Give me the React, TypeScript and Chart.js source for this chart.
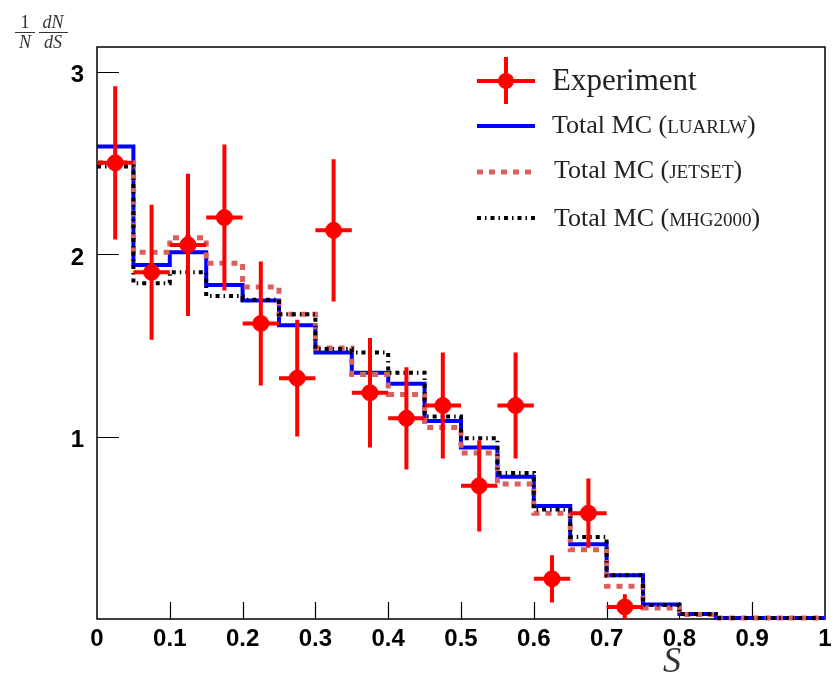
import { useEffect, useRef } from 'react';
import { Chart, registerables } from 'chart.js';

Chart.register(...registerables);

// ---------- DATA ----------
const binEdges = [0, 0.05, 0.1, 0.15, 0.2, 0.25, 0.3, 0.35, 0.4, 0.45, 0.5, 0.55, 0.6, 0.65, 0.7, 0.75, 0.8, 0.85, 0.9, 0.95, 1];
const expX = [0.025, 0.075, 0.125, 0.175, 0.225, 0.275, 0.325, 0.375, 0.425, 0.475, 0.525, 0.575, 0.625, 0.675, 0.725];
const expY = [2.5, 1.9, 2.05, 2.2, 1.62, 1.32, 2.13, 1.24, 1.1, 1.17, 0.73, 1.17, 0.22, 0.58, 0.066];
const expErr = [0.42, 0.37, 0.39, 0.4, 0.34, 0.32, 0.39, 0.3, 0.28, 0.29, 0.25, 0.29, 0.13, 0.19, 0.07];
const expHalfWidth = 0.025;
const luarlw = [2.59, 1.94, 2.01, 1.83, 1.745, 1.61, 1.46, 1.35, 1.29, 1.085, 0.94, 0.78, 0.62, 0.41, 0.24, 0.08, 0.027, 0.006, 0.006, 0.006];
const jetset = [2.5, 2.01, 2.09, 1.95, 1.82, 1.67, 1.485, 1.34, 1.23, 1.05, 0.91, 0.74, 0.58, 0.38, 0.18, 0.06, 0.025, 0.006, 0.006, 0.006];
const mhg2000 = [2.48, 1.84, 1.9, 1.77, 1.75, 1.67, 1.48, 1.46, 1.35, 1.11, 0.99, 0.8, 0.6, 0.45, 0.24, 0.077, 0.027, 0.006, 0.006, 0.006];
const xTickLabels = [0, 0.1, 0.2, 0.3, 0.4, 0.5, 0.6, 0.7, 0.8, 0.9, 1];
const xTickValues = [0.1, 0.2, 0.3, 0.4, 0.5, 0.6, 0.7, 0.8, 0.9];
const yTickValues = [1, 2, 3];

const RED = '#ff0000';
const BLUE = '#0000ff';
const PINK = '#d8605e';
const BLACK = '#000000';
const DASH_RED = [6, 6];
const DASH_BLACK = [4, 4, 1.5, 4];

// histogram: value of bin i spans [edge_i, edge_{i+1}]
const stepPoints = (vals: number[]) =>
  binEdges.map((e, i) => ({ x: e, y: vals[Math.max(0, i - 1)] }));

const decorPlugin = {
  id: 'decor',
  beforeDatasetsDraw(chart: any) {
    const { ctx, chartArea: a, scales } = chart;
    ctx.save();
    ctx.strokeStyle = '#000';
    ctx.lineWidth = 1.5;
    ctx.strokeRect(a.left, a.top, a.right - a.left, a.bottom - a.top);
    ctx.lineWidth = 1.2;
    ctx.beginPath();
    xTickValues.forEach((v) => {
      const px = Math.round(scales.x.getPixelForValue(v)) + 0.5;
      ctx.moveTo(px, a.bottom);
      ctx.lineTo(px, a.bottom - 17);
    });
    yTickValues.forEach((v) => {
      const py = Math.round(scales.y.getPixelForValue(v)) + 0.5;
      ctx.moveTo(a.left, py);
      ctx.lineTo(a.left + 22, py);
    });
    ctx.stroke();
    ctx.restore();
  },
  beforeDatasetDraw(chart: any, args: any) {
    if (args.index !== 0) return;
    const { ctx, scales } = chart;
    ctx.save();
    ctx.strokeStyle = RED;
    ctx.lineWidth = 4;
    ctx.beginPath();
    expX.forEach((x, i) => {
      const px = scales.x.getPixelForValue(x);
      const py = scales.y.getPixelForValue(expY[i]);
      ctx.moveTo(scales.x.getPixelForValue(x - expHalfWidth), py);
      ctx.lineTo(scales.x.getPixelForValue(x + expHalfWidth), py);
      ctx.moveTo(px, scales.y.getPixelForValue(expY[i] + expErr[i]));
      ctx.lineTo(px, scales.y.getPixelForValue(Math.max(0, expY[i] - expErr[i])));
    });
    ctx.stroke();
    ctx.restore();
  },
  afterDraw(chart: any) {
    const { ctx } = chart;
    ctx.save();
    // y-axis title: 1/N dN/dS
    ctx.fillStyle = '#333';
    ctx.strokeStyle = '#333';
    ctx.textAlign = 'center';
    ctx.textBaseline = 'alphabetic';
    ctx.font = '19px "Liberation Serif"';
    ctx.fillText('1', 25, 28);
    ctx.font = 'italic 18px "Liberation Serif"';
    ctx.fillText('N', 25, 48);
    ctx.fillText('dN', 53, 28);
    ctx.fillText('dS', 53, 48);
    ctx.lineWidth = 1.2;
    ctx.beginPath();
    ctx.moveTo(15, 32.5);
    ctx.lineTo(35, 32.5);
    ctx.moveTo(39, 32.5);
    ctx.lineTo(68, 32.5);
    ctx.stroke();
    // x-axis title
    ctx.font = 'italic 36px "Liberation Serif"';
    ctx.fillText('S', 672, 672);

    // legend
    const lx0 = 477, lx1 = 535, lmid = 506;
    ctx.strokeStyle = RED;
    ctx.fillStyle = RED;
    ctx.lineWidth = 4;
    ctx.beginPath();
    ctx.moveTo(lx0, 81);
    ctx.lineTo(lx1, 81);
    ctx.moveTo(lmid, 57);
    ctx.lineTo(lmid, 104);
    ctx.stroke();
    ctx.beginPath();
    ctx.arc(lmid, 81, 8, 0, Math.PI * 2);
    ctx.fill();

    const drawLine = (y: number, color: string, width: number, dash: number[]) => {
      ctx.strokeStyle = color;
      ctx.lineWidth = width;
      ctx.setLineDash(dash);
      ctx.beginPath();
      ctx.moveTo(lx0, y);
      ctx.lineTo(lx1, y);
      ctx.stroke();
      ctx.setLineDash([]);
    };
    drawLine(126, BLUE, 4, []);
    drawLine(172, PINK, 5, DASH_RED);
    drawLine(218, BLACK, 4, DASH_BLACK);

    ctx.fillStyle = '#222';
    ctx.textAlign = 'left';
    ctx.font = '31px "Liberation Serif"';
    ctx.fillText('Experiment', 552, 90);
    const smallCaps = (x: number, y: number, name: string) => {
      ctx.font = '26px "Liberation Serif"';
      const a = 'Total MC (';
      ctx.fillText(a, x, y);
      let cx = x + ctx.measureText(a).width;
      ctx.font = '19px "Liberation Serif"';
      ctx.fillText(name, cx, y);
      cx += ctx.measureText(name).width;
      ctx.font = '26px "Liberation Serif"';
      ctx.fillText(')', cx, y);
    };
    smallCaps(552, 133, 'LUARLW');
    smallCaps(554, 178, 'JETSET');
    smallCaps(554, 226, 'MHG2000');
    ctx.restore();
  },
};

export default function App() {
  const ref = useRef<HTMLCanvasElement | null>(null);
  useEffect(() => {
    if (!ref.current) return;
    const chart = new Chart(ref.current, {
      type: 'scatter',
      data: {
        datasets: [
          {
            label: 'Experiment',
            data: expX.map((x, i) => ({ x, y: expY[i] })),
            pointRadius: 8,
            pointHoverRadius: 8,
            pointBackgroundColor: RED,
            pointBorderColor: RED,
            showLine: false,
            order: 0,
          } as any,
          {
            label: 'Total MC (MHG2000)',
            type: 'line',
            data: stepPoints(mhg2000),
            stepped: 'after',
            borderColor: BLACK,
            borderWidth: 4,
            borderDash: DASH_BLACK,
            pointRadius: 0,
            fill: false,
            clip: false,
            order: 1,
          },
          {
            label: 'Total MC (JETSET)',
            type: 'line',
            data: stepPoints(jetset),
            stepped: 'after',
            borderColor: PINK,
            borderWidth: 5,
            borderDash: DASH_RED,
            pointRadius: 0,
            fill: false,
            clip: false,
            order: 2,
          },
          {
            label: 'Total MC (LUARLW)',
            type: 'line',
            data: stepPoints(luarlw),
            stepped: 'after',
            borderColor: BLUE,
            borderWidth: 4,
            pointRadius: 0,
            fill: false,
            clip: false,
            order: 3,
          },
        ],
      },
      options: {
        responsive: false,
        animation: false,
        devicePixelRatio: 1,
        layout: { padding: { top: 47, right: 7, left: 0, bottom: 0 } },
        plugins: { legend: { display: false }, tooltip: { enabled: false } },
        scales: {
          x: {
            type: 'linear',
            min: 0,
            max: 1,
            grid: { display: false },
            border: { display: false },
            afterFit: (s: any) => {
              s.height = 57;
              s.paddingLeft = 0;
              s.paddingRight = 0;
            },
            afterBuildTicks: (s: any) => {
              s.ticks = xTickLabels.map((v) => ({ value: v }));
            },
            ticks: {
              padding: -2,
              color: '#000',
              font: { family: 'Liberation Sans', size: 24, weight: 'bold' },
              maxRotation: 0,
              autoSkip: false,
              callback: (v: any) => String(Math.round(Number(v) * 10) / 10),
            },
          },
          y: {
            type: 'linear',
            min: 0,
            max: 3.135,
            grid: { display: false },
            border: { display: false },
            afterFit: (s: any) => {
              s.width = 97;
              s.paddingTop = 0;
              s.paddingBottom = 0;
            },
            afterBuildTicks: (s: any) => {
              s.ticks = yTickValues.map((v) => ({ value: v }));
            },
            ticks: {
              padding: 5,
              labelOffset: 4,
              color: '#000',
              font: { family: 'Liberation Sans', size: 24, weight: 'bold' },
              callback: (v: any) => String(v),
            },
          },
        },
      },
      plugins: [decorPlugin],
    });
    return () => chart.destroy();
  }, []);
  return (
    <div style={{ position: 'absolute', left: 0, top: 0, width: 834, height: 676, background: '#fff' }}>
      <canvas ref={ref} width={834} height={676} />
    </div>
  );
}
